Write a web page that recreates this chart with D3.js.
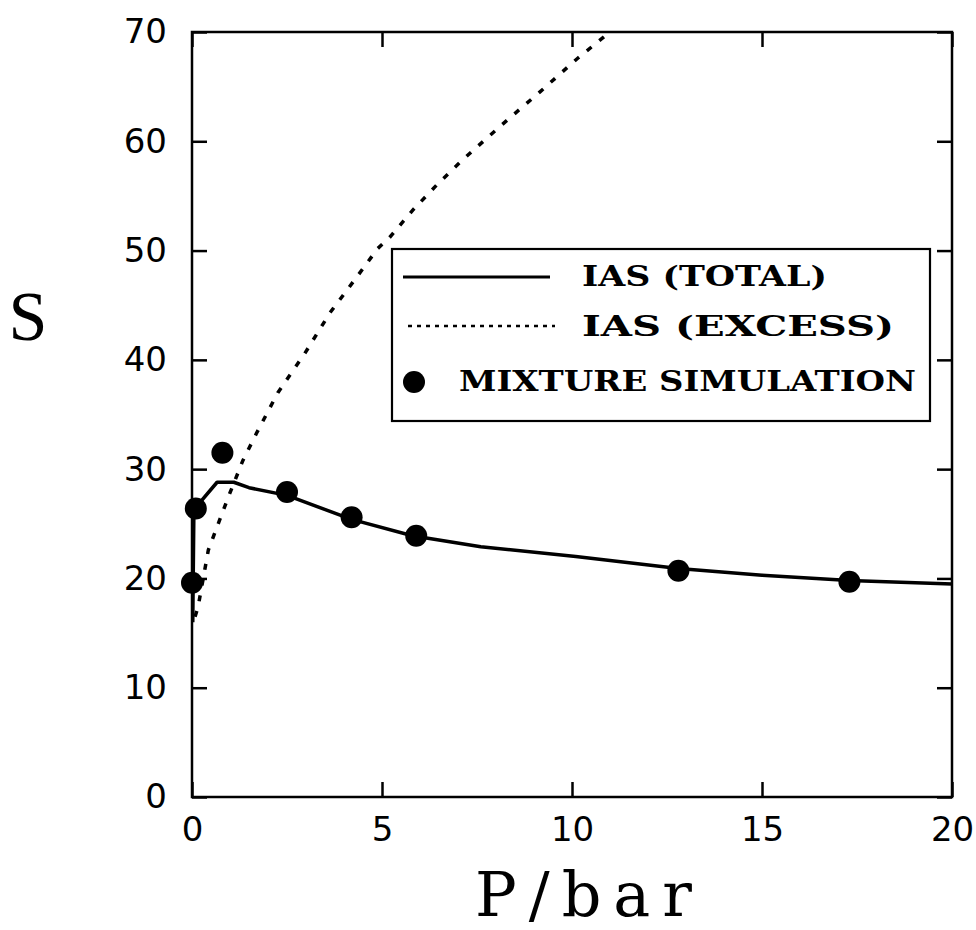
<!DOCTYPE html>
<html>
<head>
<meta charset="utf-8">
<script src="https://cdn.jsdelivr.net/npm/d3@7/dist/d3.min.js"></script>
<style>
  html, body { margin: 0; padding: 0; background: #fff; }
  svg { display: block; }
</style>
</head>
<body>
<script>
// ---- Data ----
const xTicks = [0, 5, 10, 15, 20];
const yTicks = [0, 10, 20, 30, 40, 50, 60, 70];

// IAS (TOTAL) curve
const totalP = [0.02, 0.05, 0.66, 1.1, 1.5, 2.5, 4.2, 5.8, 7.6, 10.1, 12.8, 15.0, 17.3, 20.0];
const totalS = [16.0, 26.3, 28.8, 28.8, 28.3, 27.6, 25.4, 23.9, 22.9, 22.0, 20.9, 20.3, 19.8, 19.5];

// IAS (EXCESS) curve
const excessP = [0.08, 0.16, 0.43, 0.95, 1.34, 1.7, 2.26, 2.97, 3.63, 4.34, 4.89, 5.2, 5.81, 6.44, 7.12, 8.15, 9.15, 10.15, 11.0];
const excessS = [16.5, 17.4, 22.6, 27.4, 30.8, 33.3, 37.0, 40.6, 44.3, 47.6, 50.2, 51.2, 53.7, 56.0, 58.3, 61.5, 64.5, 67.6, 70.0];

// Mixture simulation points
const simP = [0.0, 0.1, 0.8, 2.5, 4.2, 5.9, 12.8, 17.3];
const simS = [19.6, 26.4, 31.5, 27.9, 25.6, 23.9, 20.7, 19.7];

const legendLabels = ["IAS (TOTAL)", "IAS (EXCESS)", "MIXTURE SIMULATION"];

// ---- Layout ----
const W = 976, H = 930;
const svg = d3.select("body").append("svg").attr("width", W).attr("height", H);

const x = d3.scaleLinear().domain([0, 20]).range([192, 952]);
const y = d3.scaleLinear().domain([0, 70]).range([797, 32]);

const tickFont = "'DejaVu Sans', sans-serif";

// Frame
svg.append("rect")
  .attr("x", x(0)).attr("y", y(70))
  .attr("width", x(20) - x(0)).attr("height", y(0) - y(70))
  .attr("fill", "none").attr("stroke", "#000").attr("stroke-width", 2.5);

function styleAxis(g) {
  g.select(".domain").remove();
  g.selectAll(".tick line").attr("stroke", "#000").attr("stroke-width", 2.5);
  g.selectAll("text").attr("fill", "#000")
    .style("font-family", tickFont).style("font-size", "34px");
}

svg.append("g").attr("transform", `translate(0,${y(0)})`)
  .call(d3.axisBottom(x).tickValues(xTicks).tickSize(-15).tickPadding(20).tickFormat(d3.format("d")))
  .call(styleAxis);

svg.append("g").attr("transform", `translate(0,${y(70)})`)
  .call(d3.axisTop(x).tickValues(xTicks).tickSize(-15).tickFormat(""))
  .call(styleAxis);

svg.append("g").attr("transform", `translate(${x(0)},0)`)
  .call(d3.axisLeft(y).tickValues(yTicks).tickSize(-15).tickPadding(25).tickFormat(d3.format("d")))
  .call(styleAxis);

svg.append("g").attr("transform", `translate(${x(20)},0)`)
  .call(d3.axisRight(y).tickValues(yTicks).tickSize(-15).tickFormat(""))
  .call(styleAxis);

// Curves
const line = d3.line().x(d => x(d[0])).y(d => y(d[1]));

svg.append("path")
  .datum(excessP.map((p, i) => [p, excessS[i]]))
  .attr("d", line)
  .attr("fill", "none").attr("stroke", "#000").attr("stroke-width", 3.5)
  .attr("stroke-dasharray", "6,10");

svg.append("path")
  .datum(totalP.map((p, i) => [p, totalS[i]]))
  .attr("d", line)
  .attr("fill", "none").attr("stroke", "#000").attr("stroke-width", 3.5)
  .attr("stroke-linejoin", "round");

// Points
svg.append("g").selectAll("circle")
  .data(simP.map((p, i) => [p, simS[i]]))
  .join("circle")
  .attr("cx", d => x(d[0])).attr("cy", d => y(d[1])).attr("r", 11)
  .attr("fill", "#000");

// Legend
const lg = svg.append("g");
lg.append("rect").attr("x", 392).attr("y", 249).attr("width", 538).attr("height", 172)
  .attr("fill", "#fff").attr("stroke", "#000").attr("stroke-width", 2.2);
lg.append("line").attr("x1", 403).attr("x2", 550).attr("y1", 277).attr("y2", 277)
  .attr("stroke", "#000").attr("stroke-width", 3);
lg.append("line").attr("x1", 408).attr("x2", 555).attr("y1", 326).attr("y2", 326)
  .attr("stroke", "#000").attr("stroke-width", 2.5).attr("stroke-dasharray", "4,5");
lg.append("circle").attr("cx", 414).attr("cy", 382).attr("r", 11).attr("fill", "#000");

const legendX = [582, 582, 459];
const legendY = [277, 327, 382];
const legendLen = [245, 312, 457];
legendLabels.forEach((t, i) => {
  lg.append("text").attr("x", legendX[i]).attr("y", legendY[i])
    .attr("dy", "0.35em")
    .attr("textLength", legendLen[i]).attr("lengthAdjust", "spacingAndGlyphs")
    .style("font-family", "'DejaVu Serif', serif").style("font-weight", "bold")
    .style("font-size", "27px").attr("fill", "#000")
    .text(t);
});

// Axis titles
svg.append("text").attr("x", 28).attr("y", 340).attr("text-anchor", "middle")
  .style("font-family", "'Liberation Serif', 'Times New Roman', serif")
  .style("font-size", "70px").attr("fill", "#000").text("S");

svg.append("text").attr("x", 475).attr("y", 916)
  .attr("textLength", 217).attr("lengthAdjust", "spacing")
  .style("font-family", "'DejaVu Serif', serif")
  .style("font-size", "62px").attr("fill", "#000").text("P/bar");
</script>
</body>
</html>
